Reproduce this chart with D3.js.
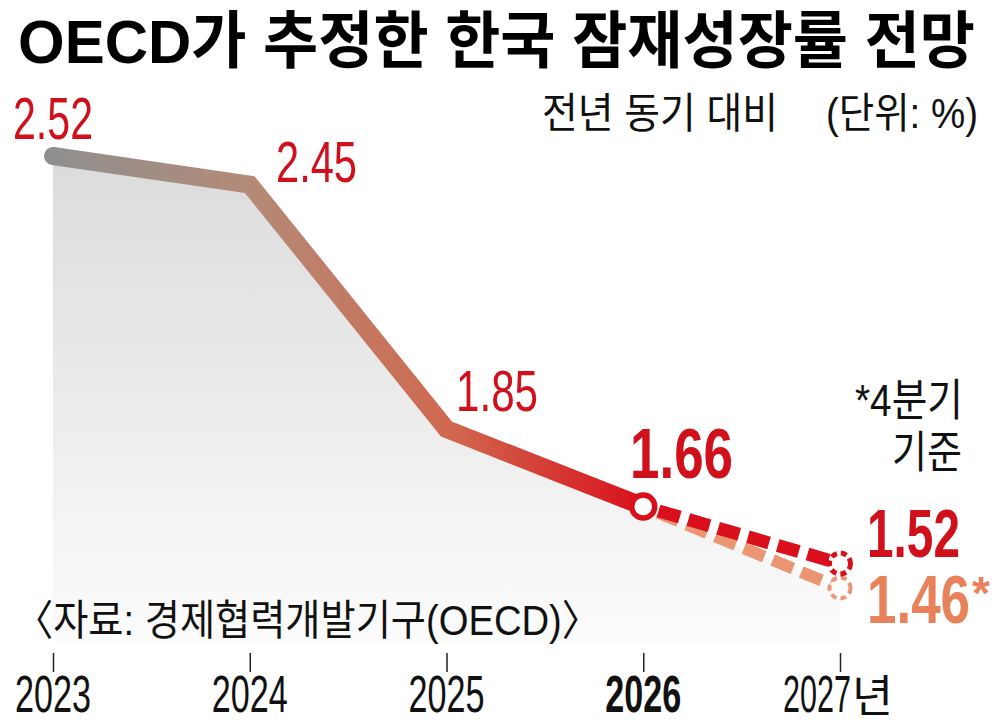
<!DOCTYPE html>
<html>
<head>
<meta charset="utf-8">
<script src="https://cdn.jsdelivr.net/npm/d3@7"></script>
<style>
  body { margin: 0; background: #fff; }
  svg text { font-family: "Liberation Sans", "Noto Sans CJK KR", sans-serif; }
</style>
</head>
<body>
<svg id="chart" width="1000" height="726"></svg>
<script>
// data
const years = ["2023", "2024", "2025", "2026", "2027"];
const actual = [2.52, 2.45, 1.85, 1.66];
const forecastAnnual = [1.66, 1.52];
const forecastQ4 = [1.66, 1.46];
const labelsMain = ["2.52", "2.45", "1.85", "1.66"];

const svg = d3.select("#chart");
const KR = "'Noto Sans CJK KR', sans-serif";

const x = d3.scalePoint().domain(years).range([53, 840]);
const y = d3.scaleLinear().domain([2.52, 1.46]).range([156, 588]);

const defs = svg.append("defs");

const areaGrad = defs.append("linearGradient")
    .attr("id", "areaGrad").attr("x1", 0).attr("y1", 0).attr("x2", 0).attr("y2", 1);
areaGrad.append("stop").attr("offset", "0%").attr("stop-color", "#dbdbdb");
areaGrad.append("stop").attr("offset", "100%").attr("stop-color", "#fcfcfc");

const lineGrad = defs.append("linearGradient")
    .attr("id", "lineGrad").attr("gradientUnits", "userSpaceOnUse")
    .attr("x1", x("2023")).attr("x2", x("2026")).attr("y1", 0).attr("y2", 0);
lineGrad.append("stop").attr("offset", "0%").attr("stop-color", "#8f8f8f");
lineGrad.append("stop").attr("offset", "33%").attr("stop-color", "#b38b78");
lineGrad.append("stop").attr("offset", "67%").attr("stop-color", "#d0694f");
lineGrad.append("stop").attr("offset", "100%").attr("stop-color", "#d9101c");

// squeeze text into a width (reference type is condensed)
function fit(sel, w) {
    sel.attr("textLength", w).attr("lengthAdjust", "spacingAndGlyphs");
    return sel;
}

// area
const areaPts = actual.map((v, i) => [years[i], v]).concat([["2027", forecastQ4[1]]]);
const area = d3.area()
    .x(d => x(d[0])).y0(643).y1(d => y(d[1]));
svg.append("path").datum(areaPts)
    .attr("d", area).attr("fill", "url(#areaGrad)");

// forecast dashed lines
const line = d3.line().x(d => x(d[0])).y(d => y(d[1]));
svg.append("path").datum([["2026", forecastQ4[0]], ["2027", forecastQ4[1]]])
    .attr("d", line).attr("fill", "none")
    .attr("stroke", "#eb9572").attr("stroke-width", 12)
    .attr("stroke-dasharray", "22 9").attr("stroke-dashoffset", -16);
svg.append("path").datum([["2026", forecastAnnual[0]], ["2027", forecastAnnual[1]]])
    .attr("d", line).attr("fill", "none")
    .attr("stroke", "#d9101c").attr("stroke-width", 13)
    .attr("stroke-dasharray", "22 9").attr("stroke-dashoffset", -16);

// main line
svg.append("path").datum(actual.map((v, i) => [years[i], v]))
    .attr("d", line).attr("fill", "none")
    .attr("stroke", "url(#lineGrad)").attr("stroke-width", 18)
    .attr("stroke-linecap", "round").attr("stroke-linejoin", "miter");

// markers
svg.append("circle").attr("cx", x("2027")).attr("cy", y(forecastQ4[1])).attr("r", 10.5)
    .attr("fill", "#fff").attr("stroke", "#eb9572").attr("stroke-width", 4)
    .attr("stroke-dasharray", "6 4");
svg.append("circle").attr("cx", x("2027")).attr("cy", y(forecastAnnual[1])).attr("r", 10.5)
    .attr("fill", "#fff").attr("stroke", "#d9101c").attr("stroke-width", 5)
    .attr("stroke-dasharray", "6 4");
svg.append("circle").attr("cx", x("2026")).attr("cy", y(actual[3])).attr("r", 11.5)
    .attr("fill", "#fff").attr("stroke", "#d9101c").attr("stroke-width", 5.5);

// value labels
const red = "#d0101b";
const salmon = "#e8825a";
fit(svg.append("text").attr("x", 13).attr("y", 139).attr("font-size", 59)
    .attr("fill", red).text(labelsMain[0]), 80);
fit(svg.append("text").attr("x", 276).attr("y", 182).attr("font-size", 57)
    .attr("fill", red).text(labelsMain[1]), 81);
fit(svg.append("text").attr("x", 456).attr("y", 411).attr("font-size", 57)
    .attr("fill", red).text(labelsMain[2]), 82);
fit(svg.append("text").attr("x", 630).attr("y", 478).attr("font-size", 70)
    .attr("font-weight", "bold").attr("fill", red).text(labelsMain[3]), 103);
fit(svg.append("text").attr("x", 867).attr("y", 557).attr("font-size", 68)
    .attr("font-weight", "bold").attr("fill", red).text(forecastAnnual[1].toFixed(2)), 93);
fit(svg.append("text").attr("x", 867).attr("y", 623).attr("font-size", 68)
    .attr("font-weight", "bold").attr("fill", salmon).text(forecastQ4[1].toFixed(2)), 103);
svg.append("text").attr("x", 972).attr("y", 609).attr("font-size", 46)
    .attr("font-weight", "bold").attr("fill", salmon).text("*");

// note
fit(svg.append("text").attr("x", 855).attr("y", 416).attr("font-size", 44)
    .attr("font-family", KR).attr("fill", "#111").text("*4분기"), 108);
fit(svg.append("text").attr("x", 892).attr("y", 468).attr("font-size", 44)
    .attr("font-family", KR).attr("fill", "#111").text("기준"), 70);

// title & subtitle
fit(svg.append("text").attr("x", 18).attr("y", 63).attr("font-size", 62)
    .attr("font-family", KR).attr("font-weight", "bold").attr("fill", "#000")
    .text("OECD가 추정한 한국 잠재성장률 전망"), 957);
fit(svg.append("text").attr("x", 542).attr("y", 128).attr("font-size", 42)
    .attr("font-family", KR).attr("fill", "#111")
    .text("전년 동기 대비"), 236);
fit(svg.append("text").attr("x", 826).attr("y", 128).attr("font-size", 42)
    .attr("font-family", KR).attr("fill", "#111")
    .text("(단위: %)"), 152);

// source
fit(svg.append("text").attr("x", 15).attr("y", 635).attr("font-size", 42)
    .attr("font-family", KR).attr("fill", "#111")
    .text("〈자료: 경제협력개발기구(OECD)〉"), 585);

// x axis
const axis = svg.append("g").attr("transform", "translate(0,653)")
    .call(d3.axisBottom(x).tickSize(19).tickFormat(""));
axis.select(".domain").remove();
axis.selectAll(".tick line").attr("stroke", "#222").attr("stroke-width", 1.5);

years.slice(0, 4).forEach(yr => {
    fit(svg.append("text").attr("x", x(yr) - 38).attr("y", 712)
        .attr("font-size", 52).attr("fill", "#111")
        .attr("font-weight", yr === "2026" ? "bold" : "normal").text(yr), 76);
});
fit(svg.append("text").attr("x", x("2027") - 57).attr("y", 712)
    .attr("font-size", 52).attr("fill", "#111").text(years[4]), 68);
fit(svg.append("text").attr("x", x("2027") + 12).attr("y", 712)
    .attr("font-size", 44).attr("font-family", KR).attr("fill", "#111").text("년"), 41);
</script>
</body>
</html>
